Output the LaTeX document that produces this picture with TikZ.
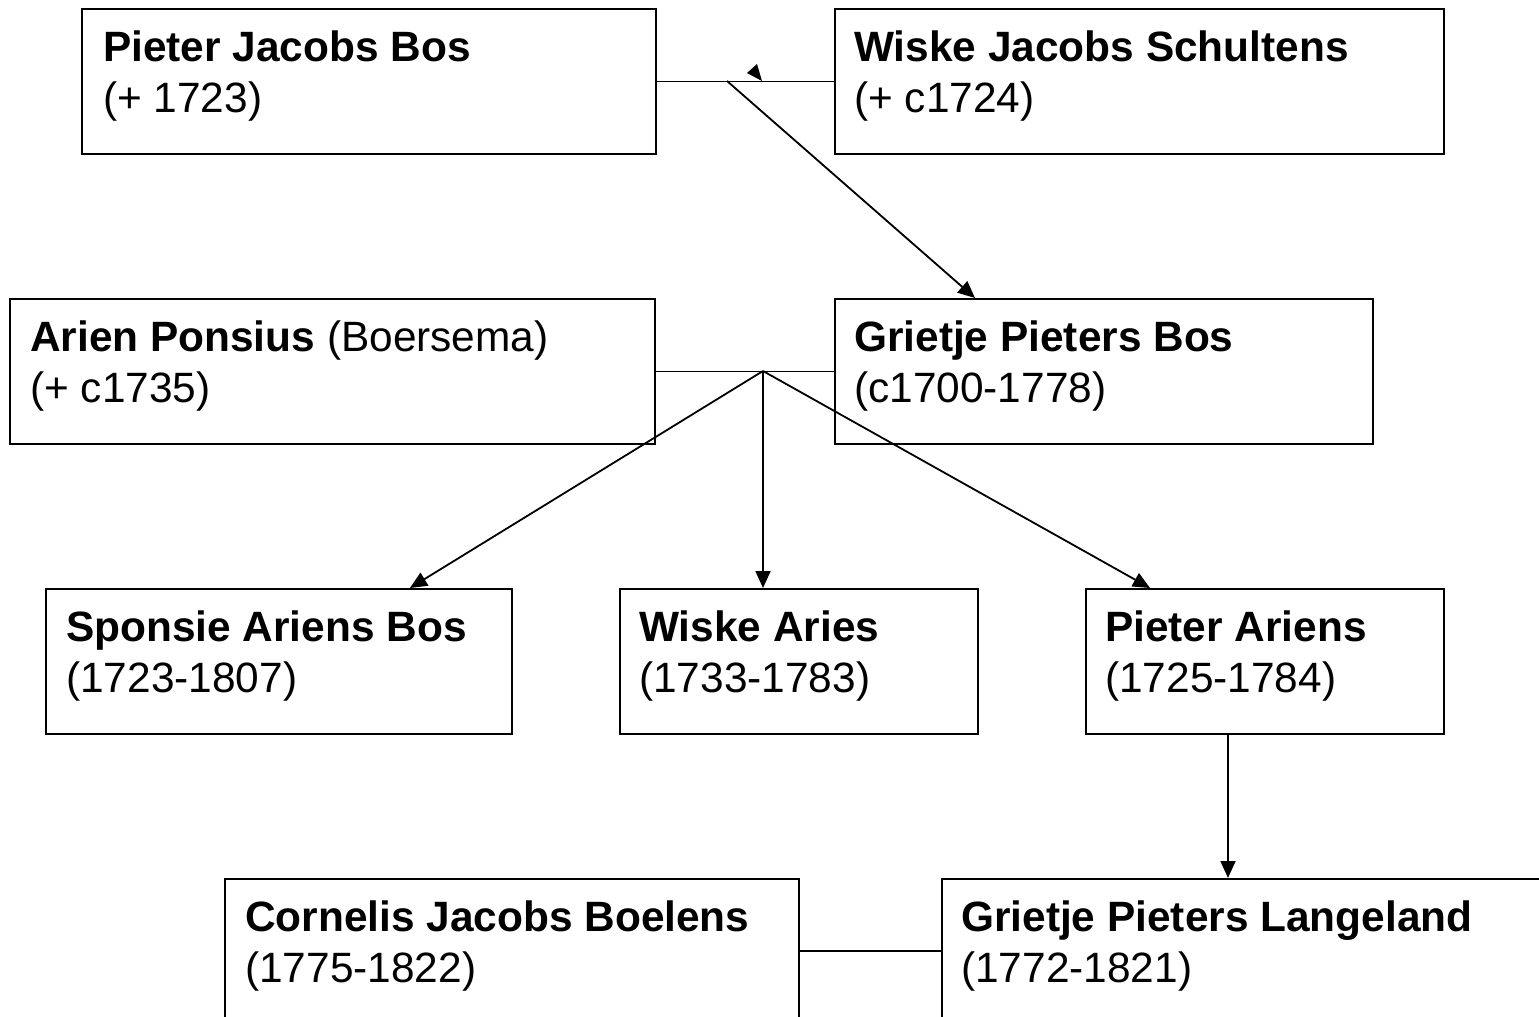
\documentclass[tikz,border=0pt]{standalone}
\usepackage{fontspec}
\setmainfont{Liberation Sans}
\usetikzlibrary{positioning,arrows.meta}

\begin{document}
\begin{tikzpicture}[x=1pt, y=-1pt,
    personbox/.style={rectangle, draw=black, line width=2pt, anchor=north west, inner sep=0pt},
    persontext/.style={anchor=base west, inner sep=0pt, font=\fontsize{42.4}{51}\selectfont},
    childarrow/.style={-{Triangle[length=17pt,width=15pt]}, line width=1.8pt},
    marriage/.style={line width=1.8pt},
    ]
    \useasboundingbox (0,0) rectangle (1539,1017);
    \clip (0,0) rectangle (1539,1017);

    %Boxes
    \node[personbox, minimum width=574pt, minimum height=145pt] (pjb) at (81,8) {};
    \node[personbox, minimum width=609pt, minimum height=145pt] (wjs) at (834,8) {};
    \node[personbox, minimum width=645pt, minimum height=145pt] (ap)  at (9,298) {};
    \node[personbox, minimum width=538pt, minimum height=145pt] (gpb) at (834,298) {};
    \node[personbox, minimum width=466pt, minimum height=145pt] (sab) at (45,588) {};
    \node[personbox, minimum width=358pt, minimum height=145pt] (wa)  at (619,588) {};
    \node[personbox, minimum width=358pt, minimum height=145pt] (pa)  at (1085,588) {};
    \node[personbox, minimum width=574pt, minimum height=200pt] (cjb) at (224,878) {};
    \node[personbox, minimum width=700pt, minimum height=200pt] (gpl) at (941,878) {};

    %Texts
    \node[persontext] (pjbname)  at ([shift={(22,53)}]pjb.north west) {\textbf{Pieter Jacobs Bos}};
    \node[persontext] (pjbdates) at ([shift={(22,104)}]pjb.north west) {(+ 1723)};
    \node[persontext] (wjsname)  at ([shift={(20,53)}]wjs.north west) {\textbf{Wiske Jacobs Schultens}};
    \node[persontext] (wjsdates) at ([shift={(20,104)}]wjs.north west) {(+ c1724)};
    \node[persontext] (apname)   at ([shift={(21,53)}]ap.north west) {\textbf{Arien Ponsius} (Boersema)};
    \node[persontext] (apdates)  at ([shift={(21,104)}]ap.north west) {(+ c1735)};
    \node[persontext] (gpbname)  at ([shift={(20,53)}]gpb.north west) {\textbf{Grietje Pieters Bos}};
    \node[persontext] (gpbdates) at ([shift={(20,104)}]gpb.north west) {(c1700-1778)};
    \node[persontext] (sabname)  at ([shift={(21,53)}]sab.north west) {\textbf{Sponsie Ariens Bos}};
    \node[persontext] (sabdates) at ([shift={(21,104)}]sab.north west) {(1723-1807)};
    \node[persontext] (waname)   at ([shift={(20,53)}]wa.north west) {\textbf{Wiske Aries}};
    \node[persontext] (wadates)  at ([shift={(20,104)}]wa.north west) {(1733-1783)};
    \node[persontext] (paname)   at ([shift={(20,53)}]pa.north west) {\textbf{Pieter Ariens}};
    \node[persontext] (padates)  at ([shift={(20,104)}]pa.north west) {(1725-1784)};
    \node[persontext] (cjbname)  at ([shift={(21,53)}]cjb.north west) {\textbf{Cornelis Jacobs Boelens}};
    \node[persontext] (cjbdates) at ([shift={(21,104)}]cjb.north west) {(1775-1822)};
    \node[persontext] (gplname)  at ([shift={(20,53)}]gpl.north west) {\textbf{Grietje Pieters Langeland}};
    \node[persontext] (gpldates) at ([shift={(20,104)}]gpl.north west) {(1772-1821)};

    %Lines
    \coordinate (pjbwjs) at (727,81);
    \draw[marriage] (pjb.east) -- (wjs.west);
    \fill (747,73) -- (757,64) -- (762,81) -- cycle;
    \draw[childarrow] (pjbwjs) -- ([xshift=141pt]gpb.north west);

    \coordinate (apgpb) at (763,371);
    \draw[marriage] (ap.east) -- (gpb.west);
    \draw[childarrow] (apgpb) -- ([xshift=365pt]sab.north west);
    \draw[childarrow] (apgpb) -- ([xshift=144pt]wa.north west);
    \draw[childarrow] (apgpb) -- ([xshift=65pt]pa.north west);

    \draw[childarrow] ([xshift=143pt]pa.south west) -- ([xshift=287pt]gpl.north west);
    \coordinate (cjbgpl) at ([yshift=-73pt]cjb.north east);
    \draw[marriage] (cjbgpl) -- (cjbgpl -| gpl.west);
\end{tikzpicture}
\end{document}
